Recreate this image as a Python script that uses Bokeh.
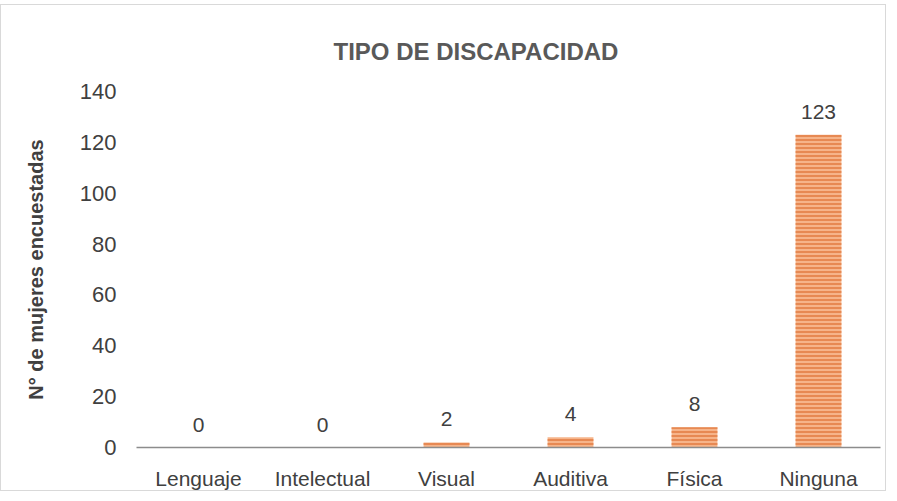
from bokeh.plotting import figure
from bokeh.models import ColumnDataSource, LabelSet, FactorRange, Range1d
from bokeh.core.properties import value
from bokeh.embed import file_html
from bokeh.resources import INLINE

title_text = "TIPO DE DISCAPACIDAD"
categories = ["Lenguaje", "Intelectual", "Visual", "Auditiva", "Física", "Ninguna"]
values = [0, 0, 2, 4, 8, 123]
y_ticks = [0, 20, 40, 60, 80, 100, 120, 140]

source = ColumnDataSource(data=dict(cat=categories, val=values, lab=[str(v) for v in values]))

p = figure(
    x_range=FactorRange(*categories, range_padding=0),
    y_range=Range1d(0, 140),
    width=886, height=487,
    output_backend="svg", toolbar_location=None,
    min_border_left=135, min_border_right=7, min_border_top=86, min_border_bottom=43,
    title=title_text,
)
p.margin = (4, 0, 0, 0)
p.styles = {"border": "1px solid #D9D9D9"}

p.title.align = "left"
p.title.offset = 175
p.title.text_font = "Liberation Sans"
p.title.text_font_size = "24px"
p.title.text_font_style = "bold"
p.title.text_color = "#595959"
p.title.padding = 22

p.vbar(x="cat", top="val", width=0.37, source=source,
       fill_color="#F6B48A", line_color=None,
       hatch_pattern="horizontal_line", hatch_color="#E27A3F",
       hatch_scale=4, hatch_weight=1.5)

labels = LabelSet(x="cat", y="val", text="lab", source=source,
                  text_align="center", text_baseline="alphabetic", y_offset=16,
                  text_font=value("Liberation Sans"), text_font_size=value("21px"),
                  text_color="#404040")
p.add_layout(labels)

p.xgrid.grid_line_color = None
p.ygrid.grid_line_color = None
p.outline_line_color = None

p.yaxis.ticker = y_ticks
p.yaxis.axis_line_color = None
p.yaxis.major_tick_line_color = None
p.yaxis.minor_tick_line_color = None
p.yaxis.major_label_text_font = "Liberation Sans"
p.yaxis.major_label_text_font_size = "22px"
p.yaxis.major_label_text_color = "#404040"
p.yaxis.major_label_standoff = 14
p.yaxis.axis_label = "N° de mujeres encuestadas"
p.yaxis.axis_label_text_font = "Liberation Sans"
p.yaxis.axis_label_text_font_size = "20px"
p.yaxis.axis_label_text_font_style = "bold"
p.yaxis.axis_label_text_color = "#404040"
p.yaxis.axis_label_standoff = 30

p.xaxis.axis_line_color = "#8C8C8C"
p.xaxis.axis_line_width = 1.5
p.xaxis.major_tick_line_color = None
p.xaxis.minor_tick_line_color = None
p.xaxis.major_label_text_font = "Liberation Sans"
p.xaxis.major_label_text_font_size = "21px"
p.xaxis.major_label_text_color = "#404040"
p.xaxis.major_label_standoff = 13

open("out.html", "w").write(file_html(p, INLINE))
